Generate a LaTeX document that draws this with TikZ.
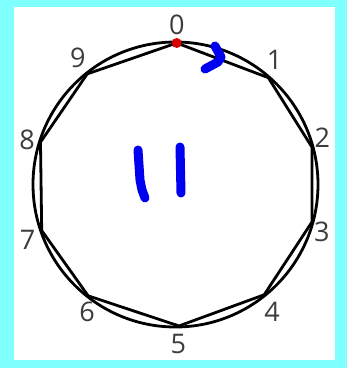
\documentclass[tikz,border=0pt]{standalone}
\usepackage{fontspec}
\setsansfont{Open Sans}
\definecolor{framecyan}{RGB}{128,255,255}
\definecolor{inkblue}{RGB}{0,0,240}
\definecolor{numgray}{RGB}{60,60,60}
\tikzset{
  rim/.style={line width=2.8pt, black, line join=round},
  numlabel/.style={font=\sffamily\fontsize{27}{27}\selectfont, text=numgray, inner sep=0pt},
  pen/.style={line width=9pt, inkblue, line cap=round, line join=round},
}
\begin{document}
\begin{tikzpicture}[x=1pt, y=1pt]
  \fill[framecyan] (0,0) rectangle (347,368);
  \fill[white] (14,8) rectangle (335,361);
  \useasboundingbox (0,0) rectangle (347,368);
  \begin{scope}[shift={(175.5,183.5)}]
    \draw[rim] (0,0) circle (142.5);
    % corners of the ten-sided figure
    \foreach \a/\n in {89.5/0, 49/1, 15.3/2, -15.4/3, -51.2/4,
                       -88.6/5, -128.1/6, -161/7, 162.6/8, 128.6/9}
      \coordinate (v\n) at (\a:141.5);
    \draw[rim] (v0) -- (v1) -- (v2) -- (v3) -- (v4) -- (v5)
               -- (v6) -- (v7) -- (v8) -- (v9) -- cycle;
    % numbers round the outside
    \foreach \a/\r/\n in {89.5/160/0, 51.4/159/1, 17.6/154/2, -18/154/3,
                          -52.9/160/4, -89/160/5, -124.8/155/6, -159.5/158/7,
                          163.3/155/8, 127.6/160/9}
      \node[numlabel] (n\n) at (\a:\r) {\n};
    \fill[red!85!black] (v0) circle (5);
  \end{scope}
  % marker strokes
  \draw[pen] (215,322) -- (221,311) -- (218,306) -- (205,299);
  \draw[pen] (138,218) -- (140,188) -- (142,178) -- (145,170);
  \draw[pen] (180,221) -- (181,175);
\end{tikzpicture}
\end{document}
